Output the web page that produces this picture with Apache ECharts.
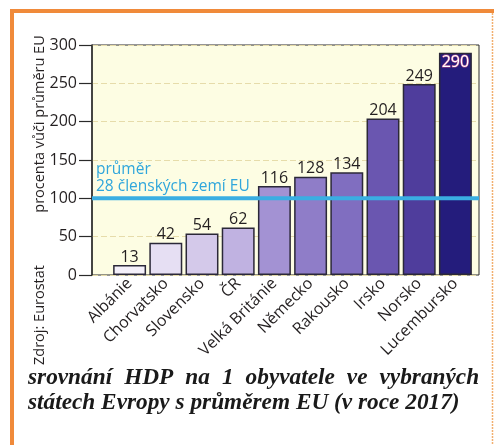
<!DOCTYPE html>
<html>
<head>
<meta charset="utf-8">
<script src="https://cdn.jsdelivr.net/npm/echarts@6/dist/echarts.min.js"></script>
<style>
  html, body { margin: 0; padding: 0; background: #ffffff; }
  #chart { width: 500px; height: 445px; }
</style>
</head>
<body>
<div id="chart"></div>
<script>
// GDP per capita of selected European states, EU-28 average = 100 (2017)
const countries = ['Albánie', 'Chorvatsko', 'Slovensko', 'ČR', 'Velká Británie',
                   'Německo', 'Rakousko', 'Irsko', 'Norsko', 'Lucembursko'];
const gdpIndex = [13, 42, 54, 62, 116, 128, 134, 204, 249, 290];
const barColors = ['#f4f0fa', '#e6dff3', '#d4c9ea', '#c0b2e1', '#a392d3',
                   '#8f7dc8', '#806ec0', '#6a56b0', '#4f3d9c', '#241c7c'];
const EU_AVERAGE = 100;
const yTicks = { min: 0, max: 300, step: 50 };
const captionLine1 = ['srovnání', 'HDP', 'na', '1', 'obyvatele', 've', 'vybraných'];
const captionLine2 = 'státech Evropy s průměrem EU (v roce 2017)';

const FONT = '"Open Sans", "Noto Sans", sans-serif';
const SERIF = '"Liberation Serif", "DejaVu Serif", serif';
const CAPTION_FONT = 'italic bold 23.3px ' + SERIF;
const INK = '#231f20';
const ORANGE = '#f08a3a';

const chart = echarts.init(document.getElementById('chart'), null, { renderer: 'canvas' });

const barData = gdpIndex.map((v, i) => {
  const item = { value: v, itemStyle: { color: barColors[i] } };
  if (i === gdpIndex.length - 1) {
    item.label = {
      position: 'insideTop', distance: 2, color: '#ffffff',
      textBorderColor: '#b04a86', textBorderWidth: 1.2
    };
  }
  return item;
});

chart.setOption({
  animation: false,
  backgroundColor: '#ffffff',
  grid: [
    // framed plot area
    { left: 92, top: 45, width: 387, height: 230, show: true,
      backgroundColor: '#fdfde3', borderColor: '#2a2a2a', borderWidth: 1 },
    // bar area
    { left: 111.5, top: 45, width: 362, height: 230 }
  ],
  xAxis: [
    { gridIndex: 0, type: 'value', min: 0, max: 1, show: false },
    {
      gridIndex: 1, type: 'category', data: countries,
      axisLine: { show: false }, axisTick: { show: false },
      axisLabel: { rotate: 45, margin: 6, fontFamily: FONT, fontSize: 16, color: INK, interval: 0 }
    }
  ],
  yAxis: [
    {
      gridIndex: 0, type: 'value', min: yTicks.min, max: yTicks.max, interval: yTicks.step,
      axisLine: { show: true, lineStyle: { color: '#2a2a2a', width: 1.5 } },
      axisTick: { show: true, length: 13, lineStyle: { color: '#2a2a2a', width: 1.2 } },
      axisLabel: { fontFamily: FONT, fontSize: 16, color: INK, margin: 15 },
      splitLine: { show: true, lineStyle: { color: '#e6dcaa', width: 1, type: [6, 3] } }
    },
    { gridIndex: 1, type: 'value', min: yTicks.min, max: yTicks.max, show: false }
  ],
  series: [
    {
      type: 'bar', xAxisIndex: 1, yAxisIndex: 1, data: barData, z: 2,
      barCategoryGap: '9%',
      itemStyle: { borderColor: '#2b2838', borderWidth: 1.5 },
      label: { show: true, position: 'top', distance: 0, fontFamily: FONT, fontSize: 16, color: INK }
    },
    {
      type: 'line', xAxisIndex: 0, yAxisIndex: 0, z: 5, symbol: 'none', silent: true,
      data: [[0, EU_AVERAGE], [1, EU_AVERAGE]],
      lineStyle: { color: '#3aaee2', width: 4 }
    }
  ],
  graphic: [
    // orange page frame
    { type: 'rect', shape: { x: 10, y: 9, width: 4, height: 440 }, style: { fill: ORANGE }, silent: true },
    { type: 'rect', shape: { x: 10, y: 9, width: 484, height: 4 }, style: { fill: ORANGE }, silent: true },
    { type: 'line', shape: { x1: 492.5, y1: 13, x2: 492.5, y2: 445 },
      style: { stroke: '#f2b070', lineWidth: 1.5, lineDash: [2, 1] }, silent: true },
    // average label
    { type: 'text', left: 96, top: 161, z: 10,
      style: { text: 'průměr\n28 členských zemí EU', font: '15.5px ' + FONT, fill: '#2fa6dc', lineHeight: 17 } },
    // vertical axis title and source
    { type: 'text', x: 40, y: 124, rotation: Math.PI / 2,
      style: { text: 'procenta vůči průměru EU', font: '14.5px ' + FONT, fill: INK, align: 'center', verticalAlign: 'middle' } },
    { type: 'text', x: 40, y: 315, rotation: Math.PI / 2,
      style: { text: 'Zdroj: Eurostat', font: '14.5px ' + FONT, fill: INK, align: 'center', verticalAlign: 'middle' } },
    // caption, first line justified with widened word gaps
    { type: 'text', x: 28, y: 389,
      style: {
        text: captionLine1.join('{gap| }'), font: CAPTION_FONT, fill: '#1a1a1a', verticalAlign: 'bottom',
        rich: { gap: { width: 12, font: CAPTION_FONT } }
      } },
    { type: 'text', x: 28, y: 414,
      style: { text: captionLine2, font: CAPTION_FONT, fill: '#1a1a1a', verticalAlign: 'bottom' } }
  ]
});
</script>
</body>
</html>
